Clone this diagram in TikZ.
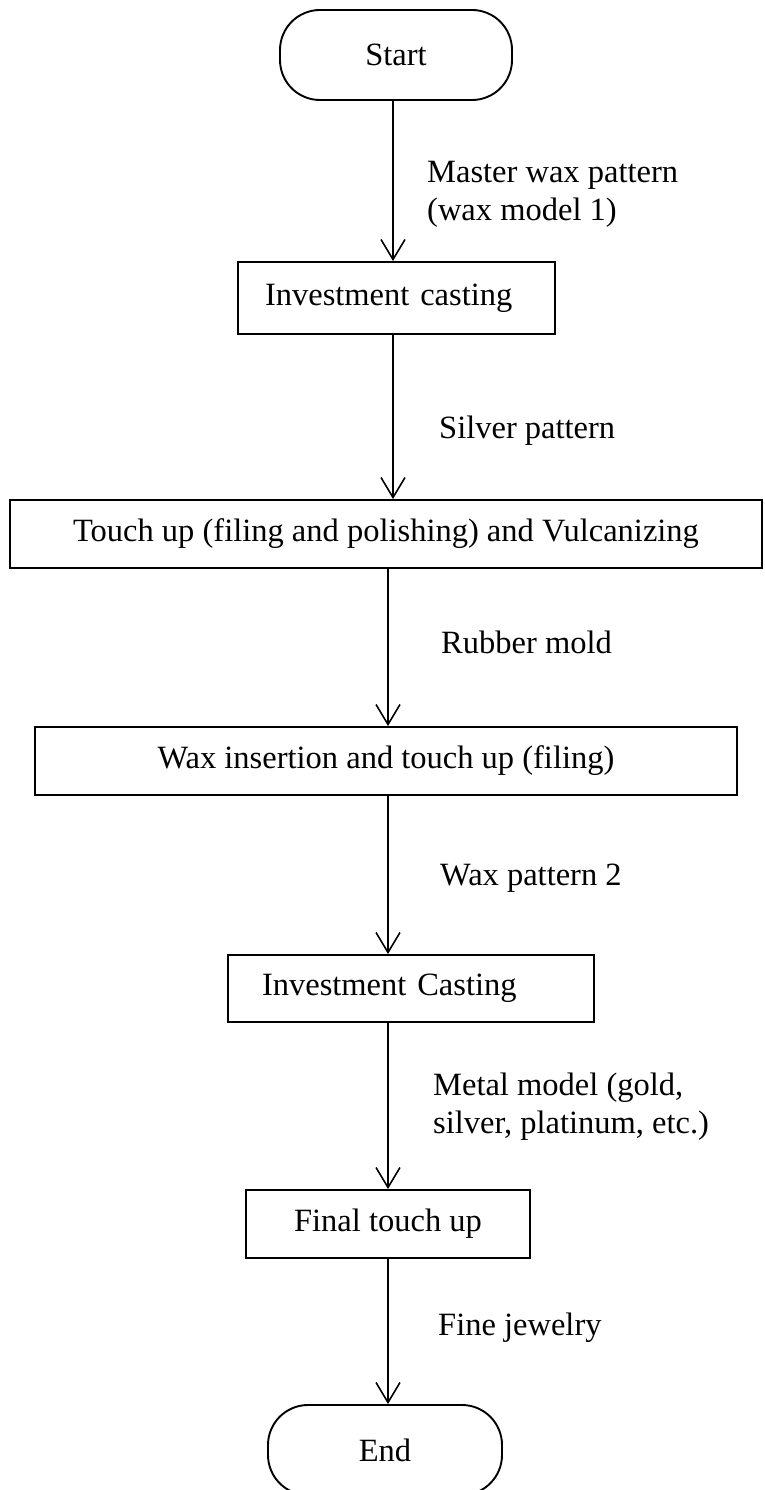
\documentclass[tikz,border=0pt]{standalone}
\usepackage{fontspec}
\setmainfont{Liberation Serif}
\usetikzlibrary{arrows.meta,calc}
\begin{document}
\begin{tikzpicture}[x=1pt,y=-1pt,
  every node/.style={font=\fontsize{32.5}{38}\selectfont, inner sep=0pt},
  terminal/.style={draw, line width=1.9pt, rounded corners=40pt, minimum height=90pt},
  stepbox/.style={draw, line width=1.9pt},
  arr/.style={line width=1.9pt, -{Straight Barb[length=20pt,width=24pt,line width=1.6pt]}},
  lbl/.style={anchor=base west, align=left}
]
\useasboundingbox (0,0) rectangle (764,1490);
\fill[white] (0,0) rectangle (764,1490);

\node[terminal, minimum width=232pt] (start) at (396,55) {Start};
\node[stepbox, minimum width=317pt, minimum height=72pt, text width=263pt, inner xsep=27pt, align=left] (box1) at (396.5,298) {Investment casting};
\node[stepbox, minimum width=752pt, minimum height=68pt] (box2) at (386,534) {Touch up (filing and polishing) and Vulcanizing};
\node[stepbox, minimum width=702pt, minimum height=68pt] (box3) at (386,761) {Wax insertion and touch up (filing)};
\node[stepbox, minimum width=366pt, minimum height=67pt, text width=298pt, inner xsep=34pt, align=left] (box4) at (411,988.5) {Investment Casting};
\node[stepbox, minimum width=284pt, minimum height=68pt] (box5) at (388,1224) {Final touch up};
\node[terminal, minimum width=234pt] (end) at (385,1450) {End};

\coordinate (axA) at (393,0);
\coordinate (axB) at (388,0);

\draw[arr] (start.south -| axA) -- (box1.north -| axA);
\draw[arr] (box1.south -| axA) -- (box2.north -| axA);
\draw[arr] (box2.south -| axB) -- (box3.north -| axB);
\draw[arr] (box3.south -| axB) -- (box4.north -| axB);
\draw[arr] (box4.south -| axB) -- (box5.north -| axB);
\draw[arr] (box5.south -| axB) -- (end.north -| axB);

\node[lbl] (l1) at (427,220) {Master wax pattern\\(wax model 1)};
\node[lbl] (l2) at (439,438) {Silver pattern};
\node[lbl] (l3) at (441,653) {Rubber mold};
\node[lbl] (l4) at (440,885) {Wax pattern 2};
\node[lbl] (l5) at (433,1133) {Metal model (gold,\\silver, platinum, etc.)};
\node[lbl] (l6) at (438,1335) {Fine jewelry};
\end{tikzpicture}
\end{document}
